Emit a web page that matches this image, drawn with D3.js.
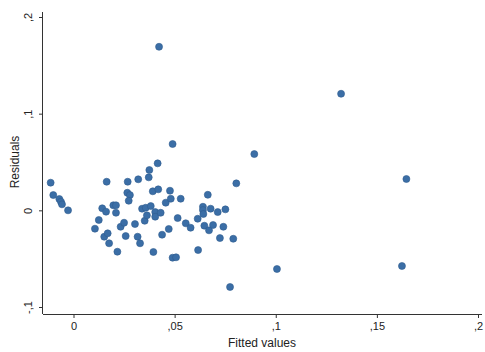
<!DOCTYPE html>
<html>
<head>
<meta charset="utf-8">
<script src="https://cdn.jsdelivr.net/npm/d3@7"></script>
<style>
  body { margin: 0; background: #fff; }
  text { font-family: "Liberation Sans", Arial, sans-serif; fill: #222; }
</style>
</head>
<body>
<svg id="chart" width="485" height="352"></svg>
<script>
// fitted values and residuals
let fitted = [
  -0.0113, -0.0100, -0.0070, -0.0062, -0.0057, -0.0027, 0.0106, 0.0125, 0.0142, 0.0161,
  0.0164, 0.0152, 0.0169, 0.0176, 0.0197, 0.0210, 0.0210, 0.0217, 0.0233, 0.0250,
  0.0258, 0.0268, 0.0266, 0.0279, 0.0273, 0.0304, 0.0317, 0.0329, 0.0320, 0.0339,
  0.0352, 0.0357, 0.0363, 0.0372, 0.0375, 0.0382, 0.0395, 0.0392, 0.0404, 0.0404,
  0.0419, 0.0416, 0.0431, 0.0438, 0.0456, 0.0471, 0.0477, 0.0481, 0.0490, 0.0490,
  0.0507, 0.0515, 0.0530, 0.0555, 0.0579, 0.0614, 0.0616, 0.0640, 0.0640, 0.0642,
  0.0647, 0.0664, 0.0670, 0.0678, 0.0690, 0.0713, 0.0724, 0.0741, 0.0751, 0.0774,
  0.0790, 0.0805, 0.0423, 0.1323, 0.0894, 0.1646, 0.1006, 0.1624
];
let residuals = [
  0.0286, 0.0158, 0.0117, 0.0089, 0.0062, 0.0000, -0.0190, -0.0100, 0.0021, -0.0014,
  0.0296, -0.0273, -0.0238, -0.0341, 0.0052, 0.0052, -0.0025, -0.0428, -0.0170, -0.0128,
  -0.0266, 0.0296, 0.0182, 0.0158, 0.0099, -0.0142, -0.0273, -0.0341, 0.0321, 0.0017,
  -0.0108, 0.0027, -0.0052, 0.0341, 0.0417, 0.0044, -0.0431, 0.0197, -0.0018, -0.0066,
  0.0217, 0.0486, -0.0025, -0.0252, 0.0079, -0.0193, 0.0203, 0.0120, 0.0686, -0.0490,
  -0.0486, -0.0080, 0.0120, -0.0134, -0.0180, -0.0087, -0.0411, 0.0037, 0.0003, -0.0038,
  -0.0159, 0.0161, -0.0207, 0.0017, -0.0152, -0.0018, -0.0287, -0.0170, 0.0010, -0.0793,
  -0.0294, 0.0279, 0.1692, 0.1206, 0.0582, 0.0324, -0.0607, -0.0576
];
let xTicks = [0, 0.05, 0.1, 0.15, 0.2];
let yTicks = [-0.1, 0, 0.1, 0.2];

let points = fitted.map(function(d, i) { return [d, residuals[i]]; });

let svg = d3.select('#chart');

let xScale = d3.scaleLinear()
  .domain([0, 0.2])
  .range([73.5, 478]);

let yScale = d3.scaleLinear()
  .domain([-0.1, 0.2])
  .range([307, 17]);

// stata style: comma decimal, no leading zero, plain hyphen
function fmt(v) {
  let s = String(+v.toFixed(3));
  return s.replace('0.', '.').replace('.', ',');
}

let left = 43, bottom = 314;

let xAxis = svg.append('g')
  .attr('transform', 'translate(0,' + bottom + ')')
  .call(d3.axisBottom(xScale).tickValues(xTicks).tickFormat(fmt).tickSize(4).tickPadding(4));
xAxis.select('.domain').attr('d', 'M' + left + ',0.5H482');

let yAxis = svg.append('g')
  .attr('transform', 'translate(' + left + ',0)')
  .call(d3.axisLeft(yScale).tickValues(yTicks).tickFormat(fmt).tickSize(4).tickPadding(4));
yAxis.select('.domain').attr('d', 'M-0.5,' + bottom + 'V12');

svg.selectAll('.domain, .tick line').attr('stroke', '#333').attr('stroke-width', 1);
svg.selectAll('.tick text')
  .attr('font-family', '"Liberation Sans", Arial, sans-serif')
  .attr('font-size', '11px')
  .attr('fill', '#222');

// rotate the y tick labels
yAxis.selectAll('.tick text')
  .attr('x', null).attr('dy', null)
  .attr('text-anchor', 'middle')
  .attr('transform', 'translate(-11,0) rotate(-90)');

svg.append('text')
  .attr('x', 262)
  .attr('y', 347)
  .attr('text-anchor', 'middle')
  .attr('font-size', '12px')
  .text('Fitted values');

svg.append('text')
  .attr('transform', 'translate(19,162) rotate(-90)')
  .attr('text-anchor', 'middle')
  .attr('font-size', '12px')
  .text('Residuals');

svg.selectAll('circle')
  .data(points)
  .enter()
  .append('circle')
  .attr('cx', function(d) { return xScale(d[0]); })
  .attr('cy', function(d) { return yScale(d[1]); })
  .attr('r', 3.5)
  .attr('fill', '#3b6ea6')
  .attr('stroke', '#2f5d8f')
  .attr('stroke-width', 0.6);
</script>
</body>
</html>
